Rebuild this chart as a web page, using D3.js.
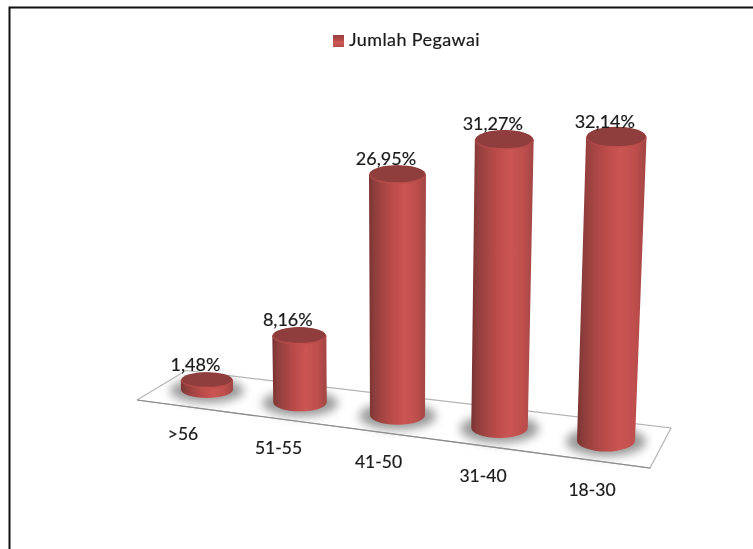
<!DOCTYPE html>
<html>
<head>
<meta charset="utf-8">
<script src="https://cdn.jsdelivr.net/npm/d3@7"></script>
<style>
  html, body { margin: 0; padding: 0; background: #fff; }
  svg { display: block; }
  text { font-family: Lato, "Open Sans", sans-serif; fill: #1a1a1a; stroke: #1a1a1a; stroke-width: 0.2px; }
</style>
</head>
<body>
<script>
// chart values
const categories = [">56", "51-55", "41-50", "31-40", "18-30"];
const values = [1.48, 8.16, 26.95, 31.27, 32.14];
const valueLabels = ["1,48%", "8,16%", "26,95%", "31,27%", "32,14%"];
const seriesName = "Jumlah Pegawai";

const width = 753;
const height = 549;

const svg = d3.select("body")
  .append("svg")
  .attr("width", width)
  .attr("height", height);

// position along the floor, 0 = far end, 1 = near end
const depth = d3.scalePoint().domain(categories).range([0, 1]);

// fake 3d: floor position, pixels per percent and radius all change with depth
const floorX = d3.scaleLinear().domain([0, 0.25, 0.5, 0.75, 1]).range([207, 300, 397.5, 499.5, 606]);
const floorY = d3.scaleLinear().domain([0, 1]).range([389.5, 440.5]);
const unit = d3.scaleLinear().domain([0, 0.25, 0.5, 0.75, 1]).range([6.6, 8.2, 8.94, 9.22, 9.45]);
const radiusX = d3.scaleLinear().domain([0, 1]).range([26, 29]);
const radiusY = d3.scaleLinear().domain([0, 1]).range([8.5, 11]);
const leanScale = d3.scaleLinear().domain([398, 606]).range([0, 0.034]);

const defs = svg.append("defs");

const barGrad = defs.append("linearGradient").attr("id", "barGrad");
barGrad.selectAll("stop")
  .data([[0, "#7a3432"], [0.12, "#93403e"], [0.38, "#b84a48"], [0.62, "#cb5553"], [0.85, "#bd4e4c"], [1, "#a04543"]])
  .enter().append("stop")
  .attr("offset", d => d[0])
  .attr("stop-color", d => d[1]);

const rimGrad = defs.append("linearGradient").attr("id", "rimGrad");
rimGrad.selectAll("stop")
  .data([[0, "#a04745"], [0.5, "#c4504e"], [1, "#b04946"]])
  .enter().append("stop")
  .attr("offset", d => d[0])
  .attr("stop-color", d => d[1]);

const legendGrad = defs.append("linearGradient").attr("id", "legendGrad").attr("x2", 0).attr("y2", 1);
legendGrad.selectAll("stop")
  .data([[0, "#9a4140"], [0.4, "#b44a48"], [0.6, "#cf5a57"], [1, "#b34c4a"]])
  .enter().append("stop")
  .attr("offset", d => d[0])
  .attr("stop-color", d => d[1]);

defs.append("filter").attr("id", "soft")
  .attr("x", "-40%").attr("y", "-80%").attr("width", "180%").attr("height", "260%")
  .append("feGaussianBlur").attr("stdDeviation", 5);

defs.append("filter").attr("id", "txt")
  .append("feGaussianBlur").attr("stdDeviation", 0.3);

defs.append("filter").attr("id", "edge")
  .append("feGaussianBlur").attr("stdDeviation", 0.5);

// outer frame, runs off the right and bottom of the picture
svg.append("path")
  .attr("d", `M9.5,${height}V7.5H${width}`)
  .attr("fill", "none")
  .attr("stroke", "#111")
  .attr("stroke-width", 2);

// floor
const floorEdges = [[[137, 400], [186, 370.5], [671, 428], [650, 468], [137, 400]]];
svg.append("path")
  .attr("d", d3.line()(floorEdges[0]))
  .attr("fill", "#fff")
  .attr("stroke", "#b4b4b4")
  .attr("stroke-width", 1.2);
svg.append("path")
  .attr("d", d3.line()([floorEdges[0][3], floorEdges[0][4]]))
  .attr("fill", "none")
  .attr("stroke", "#8a8a8a")
  .attr("stroke-width", 1.2);

const bars = categories.map((c, i) => {
  const t = depth(c);
  const x = floorX(t);
  const y = floorY(t);
  const h = values[i] * unit(t);
  const rx = radiusX(t);
  const ry = radiusY(t);
  const topX = x + Math.max(leanScale(x), -0.01) * h;
  const topY = y - h;
  const topRx = rx + h * 0.004;
  return { c, label: valueLabels[i], x, y, h, rx, ry, topX, topY, topRx };
});

// shadows on the floor
svg.append("g").selectAll("ellipse")
  .data(bars)
  .enter().append("ellipse")
  .attr("cx", d => d.x)
  .attr("cy", d => d.y + 1)
  .attr("rx", d => d.rx + 11)
  .attr("ry", d => d.ry + 4)
  .attr("fill", "#9a9a9a")
  .attr("filter", "url(#soft)");

const bar = svg.append("g").selectAll("g")
  .data(bars)
  .enter().append("g");

// cylinder side
bar.append("path")
  .attr("d", d => `M${d.topX - d.topRx},${d.topY}L${d.x - d.rx},${d.y}` +
    `A${d.rx},${d.ry} 0 0 0 ${d.x + d.rx},${d.y}` +
    `L${d.topX + d.topRx},${d.topY}Z`)
  .attr("fill", "url(#barGrad)")
  .attr("filter", "url(#edge)");

// lit rim just under the lid
bar.append("ellipse")
  .attr("cx", d => d.topX)
  .attr("cy", d => d.topY + 0.8)
  .attr("rx", d => d.topRx)
  .attr("ry", d => d.ry - 0.5)
  .attr("fill", "url(#rimGrad)")
  .attr("filter", "url(#edge)");

// lid
bar.append("ellipse")
  .attr("cx", d => d.topX)
  .attr("cy", d => d.topY - 0.3)
  .attr("rx", d => d.topRx - 1)
  .attr("ry", d => d.ry - 1.2)
  .attr("fill", "#8f3d3c")
  .attr("filter", "url(#edge)");

// percent labels
svg.append("g").selectAll("text")
  .data(bars)
  .enter().append("text")
  .attr("x", d => d.topX - 11.5)
  .attr("y", d => d.topY - 9)
  .attr("text-anchor", "middle")
  .attr("font-size", 18)
  .attr("filter", "url(#txt)")
  .text(d => d.label);

// category labels
svg.append("g").selectAll("text")
  .data(bars)
  .enter().append("text")
  .attr("x", d => d.x - 24 + 10 * depth(d.c))
  .attr("y", d => d.y + 50 + 5 * depth(d.c))
  .attr("text-anchor", "middle")
  .attr("font-size", 17.5)
  .attr("filter", "url(#txt)")
  .text(d => d.c);

// legend
svg.append("rect")
  .attr("x", 333)
  .attr("y", 35)
  .attr("width", 11)
  .attr("height", 12)
  .attr("fill", "url(#legendGrad)");

svg.append("text")
  .attr("x", 349)
  .attr("y", 46)
  .attr("font-size", 18)
  .attr("letter-spacing", 0.4)
  .attr("filter", "url(#txt)")
  .text(seriesName);
</script>
</body>
</html>
